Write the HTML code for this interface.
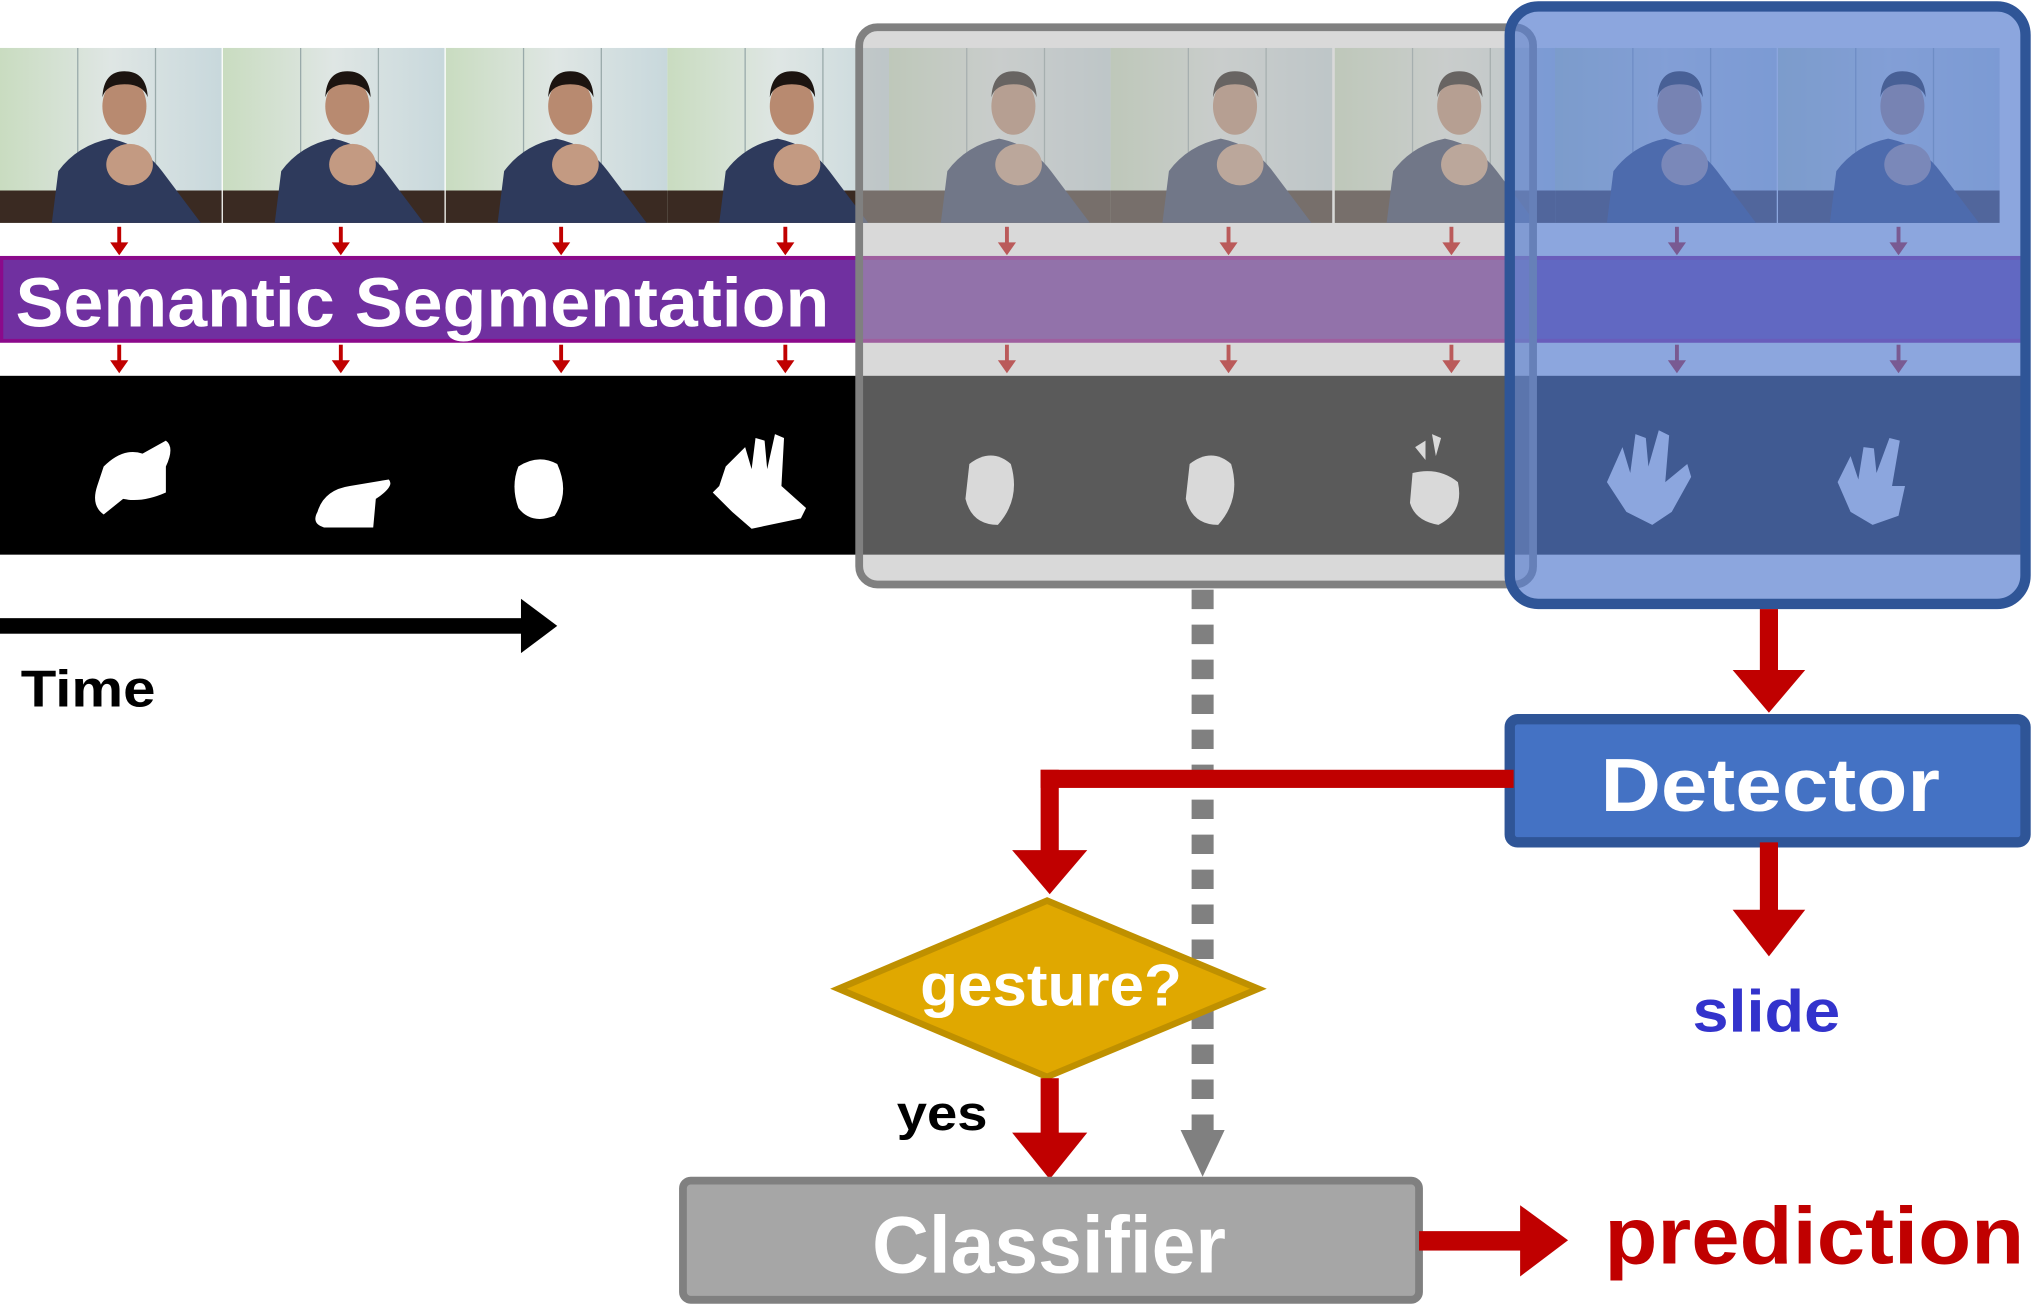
<!DOCTYPE html>
<html><head><meta charset="utf-8"><style>
html,body{margin:0;padding:0;background:#fff;}
svg{display:block;}
text{font-family:"Liberation Sans",sans-serif;font-weight:bold;}
</style></head><body>
<svg width="2032" height="1305" viewBox="0 0 1568 1007" preserveAspectRatio="none" xmlns="http://www.w3.org/2000/svg">
<defs>
<linearGradient id="wall" x1="0" y1="0" x2="1" y2="0">
<stop offset="0" stop-color="#c9dcc0"/><stop offset="0.5" stop-color="#dfe6e4"/><stop offset="1" stop-color="#c8d8dc"/>
</linearGradient>
<g id="photo">
<rect x="0" y="0" width="171" height="135" fill="url(#wall)"/>
<line x1="60" y1="0" x2="60" y2="135" stroke="#9aa" stroke-width="1"/>
<line x1="120" y1="0" x2="120" y2="135" stroke="#9aa" stroke-width="1"/>
<rect x="0" y="110" width="171" height="25" fill="#3a2a22"/>
<path d="M40 135 L45 95 Q60 75 85 70 Q110 75 125 95 L155 135 Z" fill="#2e3a5c"/>
<ellipse cx="96" cy="45" rx="17" ry="22" fill="#b88a70"/>
<path d="M79 38 Q80 18 96 18 Q113 18 114 38 Q110 28 96 28 Q82 28 79 38Z" fill="#1c1410"/>
<ellipse cx="100" cy="90" rx="18" ry="16" fill="#c39a82"/>
</g>
<g id="ra"><rect x="-1.5" y="0" width="3" height="13" fill="#c00000"/><path d="M-7 12 L7 12 L0 22Z" fill="#c00000"/></g>
</defs>

<use href="#photo" x="0" y="37"/>
<use href="#photo" x="172" y="37"/>
<use href="#photo" x="344" y="37"/>
<use href="#photo" x="515" y="37"/>
<use href="#photo" x="686" y="37"/>
<use href="#photo" x="857" y="37"/>
<use href="#photo" x="1030" y="37"/>
<use href="#photo" x="1200" y="37"/>
<use href="#photo" x="1372" y="37"/>

<rect x="1" y="199" width="1560" height="64" fill="#7030a0" stroke="#8b0a8b" stroke-width="3"/>
<text x="12" y="252" font-size="54" fill="#fff" textLength="628" lengthAdjust="spacingAndGlyphs">Semantic Segmentation</text>

<rect x="0" y="290" width="1560" height="138" fill="#000"/>
<path d="M80 360 Q95 345 110 350 L128 340 Q135 345 128 360 L128 380 Q110 388 95 385 L80 397 Q70 390 75 375Z" fill="#fff"/>
<path d="M245 395 Q250 378 270 375 L300 370 Q305 375 290 385 L288 407 L250 407 Q240 404 245 395Z" fill="#fff"/>
<path d="M400 360 Q415 350 430 358 Q440 380 428 398 Q410 405 400 392 Q394 375 400 360Z" fill="#fff"/>
<path d="M560 360 L575 345 L580 362 L583 338 L590 340 L592 362 L598 335 L605 338 L603 375 L622 392 L618 400 L580 408 L565 395 L550 380 L555 375 Z" fill="#fff"/>
<path d="M748 358 Q765 345 780 358 Q788 385 770 405 Q750 405 745 385Z" fill="#fff"/>
<path d="M918 358 Q935 345 950 358 Q958 385 940 405 Q920 405 915 385Z" fill="#fff"/>
<path d="M1090 365 Q1110 360 1125 372 Q1130 395 1110 405 Q1092 402 1088 388Z M1092 345 L1100 340 L1100 355Z M1105 335 L1112 338 L1108 352Z" fill="#fff"/>
<path d="M1240 372 L1252 345 L1258 365 L1262 335 L1270 338 L1272 360 L1280 332 L1288 336 L1285 372 L1302 358 L1305 368 L1290 395 L1275 405 L1255 395 Z" fill="#fff"/>
<path d="M1418 372 L1428 352 L1434 370 L1438 345 L1446 346 L1448 365 L1458 338 L1466 340 L1460 375 L1470 375 L1465 398 L1445 405 L1428 395 Z" fill="#fff"/>

<g>
<use href="#ra" x="92" y="175"/><use href="#ra" x="263" y="175"/><use href="#ra" x="433" y="175"/><use href="#ra" x="606" y="175"/>
<use href="#ra" x="777" y="175"/><use href="#ra" x="948" y="175"/><use href="#ra" x="1120" y="175"/><use href="#ra" x="1294" y="175"/><use href="#ra" x="1465" y="175"/>
<use href="#ra" x="92" y="266"/><use href="#ra" x="263" y="266"/><use href="#ra" x="433" y="266"/><use href="#ra" x="606" y="266"/>
<use href="#ra" x="777" y="266"/><use href="#ra" x="948" y="266"/><use href="#ra" x="1120" y="266"/><use href="#ra" x="1294" y="266"/><use href="#ra" x="1465" y="266"/>
</g>

<rect x="663" y="21" width="520" height="430" rx="14" fill="#b4b4b4" fill-opacity="0.5" stroke="#808080" stroke-width="6"/>
<rect x="1165" y="5" width="398" height="461" rx="22" fill="#5b80d0" fill-opacity="0.7" stroke="#2f5597" stroke-width="8"/>

<rect x="0" y="477" width="405" height="12" fill="#000"/>
<path d="M402 462 L430 483 L402 504Z" fill="#000"/>
<text x="16" y="545" font-size="40" fill="#000" textLength="104" lengthAdjust="spacingAndGlyphs">Time</text>

<line x1="928" y1="455" x2="928" y2="875" stroke="#808080" stroke-width="17" stroke-dasharray="15,12"/>
<path d="M911 872 L945 872 L928 908Z" fill="#808080"/>

<rect x="1358" y="470" width="14" height="50" fill="#c00000"/>
<path d="M1337 517 L1393 517 L1365 550Z" fill="#c00000"/>

<rect x="1165" y="555" width="398" height="95" rx="6" fill="#4472c4" stroke="#2f5597" stroke-width="8"/>
<text x="1235" y="626" font-size="58" fill="#fff" textLength="262" lengthAdjust="spacingAndGlyphs">Detector</text>

<rect x="803" y="594" width="365" height="14" fill="#c00000"/>
<rect x="803" y="594" width="14" height="65" fill="#c00000"/>
<path d="M781 656 L839 656 L810 690Z" fill="#c00000"/>

<rect x="1358" y="650" width="14" height="55" fill="#c00000"/>
<path d="M1337 702 L1393 702 L1365 738Z" fill="#c00000"/>
<text x="1306" y="796" font-size="46" fill="#3333cc" textLength="114" lengthAdjust="spacingAndGlyphs">slide</text>

<path d="M808 695 L971 763 L808 831 L647 763Z" fill="#e0a800" stroke="#bf9000" stroke-width="5"/>
<text x="710" y="776" font-size="46" fill="#fff" textLength="202" lengthAdjust="spacingAndGlyphs">gesture?</text>

<text x="692" y="872" font-size="38" fill="#000" textLength="70" lengthAdjust="spacingAndGlyphs">yes</text>
<rect x="803" y="832" width="14" height="45" fill="#c00000"/>
<path d="M781 874 L839 874 L810 910Z" fill="#c00000"/>

<rect x="527" y="911" width="568" height="92" rx="6" fill="#a6a6a6" stroke="#808080" stroke-width="6"/>
<text x="673" y="982" font-size="62" fill="#fff" textLength="273" lengthAdjust="spacingAndGlyphs">Classifier</text>

<rect x="1095" y="950" width="82" height="15" fill="#c00000"/>
<path d="M1173 930 L1210 957 L1173 985Z" fill="#c00000"/>
<text x="1238" y="975" font-size="62" fill="#c00000" textLength="324" lengthAdjust="spacingAndGlyphs">prediction</text>
</svg>
</body></html>
